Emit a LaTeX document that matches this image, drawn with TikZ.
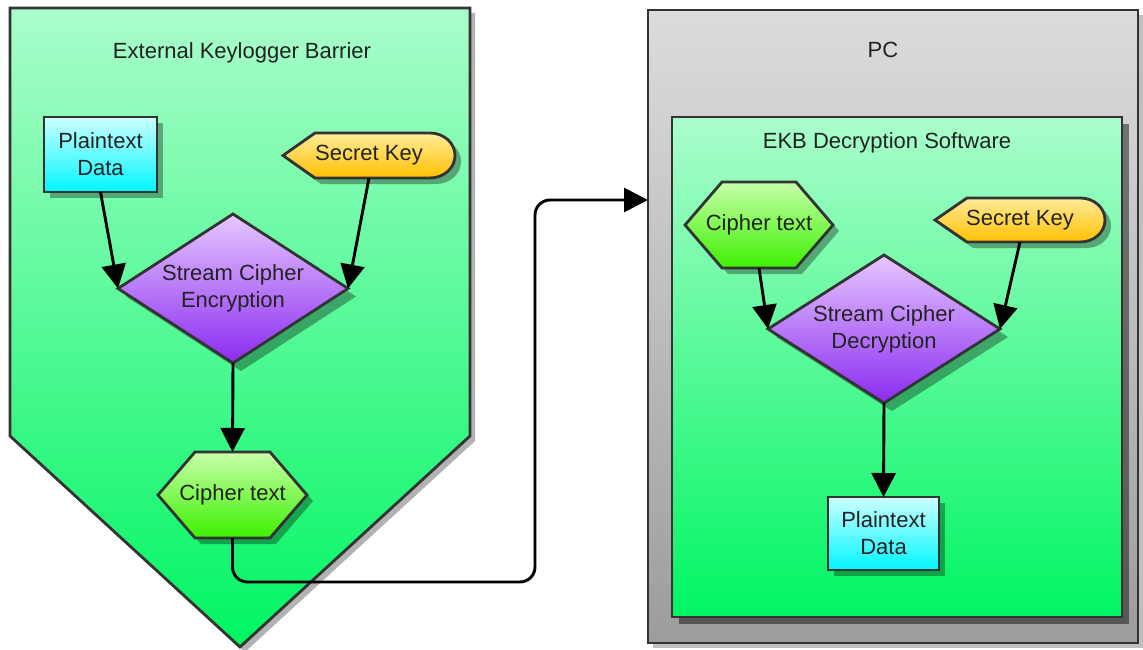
\documentclass[tikz,border=0pt]{standalone}
\usepackage{fontspec}
\setmainfont{Liberation Sans}
\usetikzlibrary{arrows.meta,shadows,calc}

\definecolor{edge}{HTML}{333333}
\definecolor{ink}{HTML}{222222}
\definecolor{mintTop}{HTML}{AAFDCB}
\definecolor{mintBot}{HTML}{00F562}
\definecolor{cyanTop}{HTML}{CCFFFF}
\definecolor{cyanBot}{HTML}{00F6FF}
\definecolor{keyTop}{HTML}{FFEB9A}
\definecolor{keyBot}{HTML}{FFC000}
\definecolor{cryTop}{HTML}{E6C8FF}
\definecolor{cryBot}{HTML}{8A2BF0}
\definecolor{hexTop}{HTML}{C8FFAA}
\definecolor{hexBot}{HTML}{3CF000}
\definecolor{pcTop}{HTML}{DCDCDC}
\definecolor{pcBot}{HTML}{9C9C9C}

\pgfdeclarelayer{back}
\pgfdeclarelayer{shapes}
\pgfsetlayers{back,shapes,main}

\begin{document}
\begin{tikzpicture}[x=1pt,y=-1pt,
  lbl/.style={font=\fontsize{22}{27}\selectfont, text=ink, align=center,
              inner sep=0pt, outer sep=0pt, shape=rectangle},
  outline/.style={draw=edge, line width=2.8pt, line join=miter},
  nshadow/.style={drop shadow={shadow xshift=6pt, shadow yshift=-6pt,
                  fill=black, opacity=0.33}},
  dshadow/.style={drop shadow={shadow xshift=8pt, shadow yshift=-8pt,
                  fill=black, opacity=0.33}},
  conn/.style={draw=black, line width=2.9pt, -{Triangle[length=24pt,width=24pt]}},
  keyshape/.style={outline, top color=keyTop, bottom color=keyBot, nshadow},
  hexshape/.style={outline, top color=hexTop, bottom color=hexBot, nshadow},
  cryshape/.style={outline, top color=cryTop, bottom color=cryBot, dshadow},
  databox/.style={lbl, outline, top color=cyanTop, bottom color=cyanBot, nshadow},
]
\useasboundingbox (0,0) rectangle (1143,650);

% ---------- containers ----------
\begin{pgfonlayer}{back}
  \path[outline, top color=mintTop, bottom color=mintBot,
        drop shadow={shadow xshift=5pt, shadow yshift=-5pt, fill=black!30, opacity=1}]
    (10,8) -- (470,8) -- (470,436) -- (240,647) -- (10,436) -- cycle;
  \node[outline, top color=pcTop, bottom color=pcBot, inner sep=0pt, outer sep=0pt,
        minimum width=490pt, minimum height=633pt,
        drop shadow={shadow xshift=5pt, shadow yshift=-5pt, fill=black!25, opacity=1}]
    (pc) at (893,326.5) {};
  \node[outline, top color=mintTop, bottom color=mintBot, inner sep=0pt, outer sep=0pt,
        minimum width=450pt, minimum height=500pt,
        drop shadow={shadow xshift=7pt, shadow yshift=-7pt, fill=black, opacity=0.45}]
    (ekb) at (897,367) {};
\end{pgfonlayer}

% ---------- titles ----------
\node[lbl] (titleL)   at (242,53)  {External Keylogger Barrier};
\node[lbl] (titlePC)  at (883,50)  {PC};
\node[lbl] (titleEKB) at (887,143) {EKB Decryption Software};

% ---------- encryption side ----------
\node[databox, minimum width=113pt, minimum height=75pt] (ptL) at (100.5,154.5) {Plaintext\\Data};
\node[lbl, minimum width=172pt, minimum height=45pt] (skL) at (369,155.5) {Secret Key};
\node[lbl, minimum width=230pt, minimum height=149pt] (dL) at (233,288.5) {Stream Cipher\\Encryption};
\node[lbl, minimum width=149pt, minimum height=86pt] (cL) at (232.5,495) {Cipher text};

% ---------- decryption side ----------
\node[lbl, minimum width=148pt, minimum height=86pt] (cR) at (759,225) {Cipher text};
\node[lbl, minimum width=170pt, minimum height=44pt] (skR) at (1020,220) {Secret Key};
\node[lbl, minimum width=232pt, minimum height=148pt] (dR) at (884,329) {Stream Cipher\\Decryption};
\node[databox, minimum width=111pt, minimum height=73pt] (ptR) at (883.5,533.5) {Plaintext\\Data};

% ---------- shape outlines ----------
\begin{pgfonlayer}{shapes}
  \foreach \k in {skL,skR}{
    \path[keyshape] (\k.west) -- ($(\k.north west)+(32,0)$) -- ($(\k.north east)+(-25,0)$)
      .. controls +(14,0) and +(0,-12.4) .. (\k.east)
      .. controls +(0,12.4) and +(14,0) .. ($(\k.south east)+(-25,0)$)
      -- ($(\k.south west)+(32,0)$) -- cycle;
  }
  \foreach \d in {dL,dR}{
    \path[cryshape] (\d.north) -- (\d.east) -- (\d.south) -- (\d.west) -- cycle;
  }
  \foreach \h in {cL,cR}{
    \path[hexshape] (\h.west) -- ($(\h.north west)+(37,0)$) -- ($(\h.north east)+(-37,0)$)
      -- (\h.east) -- ($(\h.south east)+(-37,0)$) -- ($(\h.south west)+(37,0)$) -- cycle;
  }
\end{pgfonlayer}

% ---------- connectors ----------
\draw[conn] (ptL.south) -- (dL.west);
\draw[conn] (skL.south) -- (dL.east);
\draw[conn] (dL.south) -- (cL.north);

\coordinate (lowBend) at (535,582);
\coordinate (pcIn) at (pc.west |- 0,200);
\draw[conn, rounded corners=15pt] (cL.south) |- (lowBend) |- (pcIn);

\draw[conn] (cR.south) -- (dR.west);
\draw[conn] (skR.south) -- (dR.east);
\draw[conn] (dR.south) -- (ptR.north);
\end{tikzpicture}
\end{document}
